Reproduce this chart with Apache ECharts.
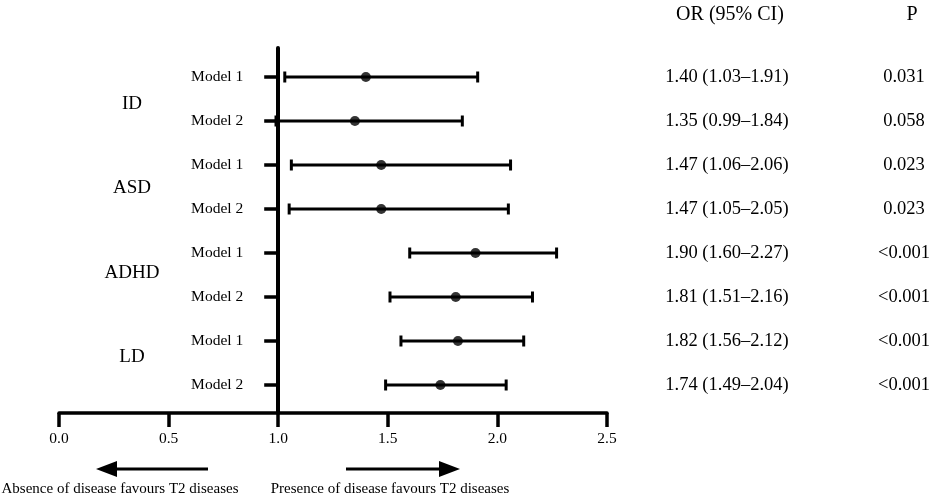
<!DOCTYPE html>
<html>
<head>
<meta charset="utf-8">
<script src="https://cdn.jsdelivr.net/npm/echarts@6/dist/echarts.min.js"></script>
<style>
html,body{margin:0;padding:0;background:#fff;}
#chart{width:936px;height:499px;}
</style>
</head>
<body>
<div id="chart"></div>
<script>
// ---- data ----
const groups = ['ID', 'ASD', 'ADHD', 'LD'];
const rowLabels = ['Model 1', 'Model 2', 'Model 1', 'Model 2', 'Model 1', 'Model 2', 'Model 1', 'Model 2'];
const orVals = [1.40, 1.35, 1.47, 1.47, 1.90, 1.81, 1.82, 1.74];
const lowVals = [1.03, 0.99, 1.06, 1.05, 1.60, 1.51, 1.56, 1.49];
const highVals = [1.91, 1.84, 2.06, 2.05, 2.27, 2.16, 2.12, 2.04];
const pVals = ['0.031', '0.058', '0.023', '0.023', '<0.001', '<0.001', '<0.001', '<0.001'];
const xMin = 0, xMax = 2.5, xStep = 0.5, refValue = 1.0;
const leftCaption = 'Absence of disease favours T2 diseases';
const rightCaption = 'Presence of disease favours T2 diseases';

// ---- layout ----
const FONT = 'Liberation Serif';
const gridLeft = 59, gridWidth = 548;
const refOffset = -((refValue - xMin) / (xMax - xMin)) * gridWidth;

const orText = orVals.map((v, i) => v.toFixed(2) + ' (' + lowVals[i].toFixed(2) + '\u2013' + highVals[i].toFixed(2) + ')');
const barData = orVals.map((v, i) => [lowVals[i], highVals[i], i]);
const pointData = orVals.map((v, i) => [v, i]);

const chart = echarts.init(document.getElementById('chart'));
const black = '#000';
const hiddenX = (gi) => ({ type: 'value', gridIndex: gi, min: xMin, max: xMax, show: false });

chart.setOption({
  animation: false,
  backgroundColor: '#fff',
  textStyle: { fontFamily: FONT, color: black },
  grid: [
    { left: gridLeft, width: gridWidth, top: 48, height: 365, containLabel: false, outerBoundsMode: 'none' },
    { left: gridLeft, width: gridWidth, top: 55, height: 352, containLabel: false, outerBoundsMode: 'none' },
    { left: 160, width: 10, top: 62, height: 337, containLabel: false, outerBoundsMode: 'none' }
  ],
  xAxis: [
    {
      type: 'value', gridIndex: 0, min: xMin, max: xMax, interval: xStep,
      axisLine: { show: true, onZero: false, lineStyle: { color: black, width: 3.5 } },
      axisTick: { show: true, length: 14, lineStyle: { color: black, width: 3.5 } },
      axisLabel: { color: black, fontFamily: FONT, fontSize: 15.5, margin: 18, formatter: v => v.toFixed(1) },
      splitLine: { show: false }
    },
    hiddenX(1),
    hiddenX(2)
  ],
  yAxis: [
    {
      type: 'value', gridIndex: 0, min: 0, max: 1, offset: refOffset,
      axisLine: { show: true, onZero: false, lineStyle: { color: black, width: 4 } },
      axisTick: { show: false }, axisLabel: { show: false }, splitLine: { show: false }
    },
    {
      type: 'category', gridIndex: 1, inverse: true, data: rowLabels, offset: refOffset,
      axisLine: { show: false, onZero: false },
      axisTick: { show: true, alignWithLabel: true, length: 14, lineStyle: { color: black, width: 3.5 } },
      axisLabel: { color: black, fontFamily: FONT, fontSize: 15.5, margin: 35 },
      splitLine: { show: false }
    },
    {
      type: 'category', gridIndex: 1, inverse: true, position: 'right', data: orText, offset: 120,
      axisLine: { show: false, onZero: false }, axisTick: { show: false },
      axisLabel: { color: black, fontFamily: FONT, fontSize: 18.5, margin: 0, align: 'center' },
      name: 'OR (95% CI)', nameLocation: 'start', nameGap: 30,
      nameTextStyle: { color: black, fontFamily: FONT, fontSize: 20, align: 'center', padding: [0, 0, 0, 6] }
    },
    {
      type: 'category', gridIndex: 1, inverse: true, position: 'right', data: pVals, offset: 297,
      axisLine: { show: false, onZero: false }, axisTick: { show: false },
      axisLabel: { color: black, fontFamily: FONT, fontSize: 18.5, margin: 0, align: 'center' },
      name: 'P', nameLocation: 'start', nameGap: 30,
      nameTextStyle: { color: black, fontFamily: FONT, fontSize: 20, align: 'center', padding: [0, 0, 0, 16] }
    },
    {
      type: 'category', gridIndex: 2, inverse: true, data: groups,
      axisLine: { show: false, onZero: false }, axisTick: { show: false },
      axisLabel: { color: black, fontFamily: FONT, fontSize: 19, margin: 28, align: 'center' }
    }
  ],
  series: [
    {
      type: 'custom', xAxisIndex: 1, yAxisIndex: 1, data: barData,
      encode: { x: [0, 1], y: 2 },
      renderItem: function (params, api) {
        const y = api.value(2);
        const a = api.coord([api.value(0), y]);
        const b = api.coord([api.value(1), y]);
        const h = 5.5;
        const st = { stroke: black, lineWidth: 3 };
        return {
          type: 'group',
          children: [
            { type: 'line', shape: { x1: a[0], y1: a[1], x2: b[0], y2: b[1] }, style: st },
            { type: 'line', shape: { x1: a[0], y1: a[1] - h, x2: a[0], y2: a[1] + h }, style: st },
            { type: 'line', shape: { x1: b[0], y1: b[1] - h, x2: b[0], y2: b[1] + h }, style: st }
          ]
        };
      },
      z: 3
    },
    {
      type: 'scatter', xAxisIndex: 1, yAxisIndex: 1, data: pointData,
      symbol: 'circle', symbolSize: 10, itemStyle: { color: black }, z: 4
    }
  ],
  graphic: [
    { type: 'line', shape: { x1: 114, y1: 469, x2: 208, y2: 469 }, style: { stroke: black, lineWidth: 3 } },
    { type: 'polygon', shape: { points: [[96, 469], [117, 461], [117, 477]] }, style: { fill: black } },
    { type: 'line', shape: { x1: 346, y1: 469, x2: 442, y2: 469 }, style: { stroke: black, lineWidth: 3 } },
    { type: 'polygon', shape: { points: [[460, 469], [439, 461], [439, 477]] }, style: { fill: black } },
    { type: 'text', x: 120, y: 489, style: { text: leftCaption, font: '15px "Liberation Serif"', fill: black, textAlign: 'center', textVerticalAlign: 'middle' } },
    { type: 'text', x: 390, y: 489, style: { text: rightCaption, font: '15px "Liberation Serif"', fill: black, textAlign: 'center', textVerticalAlign: 'middle' } }
  ]
});
</script>
</body>
</html>
